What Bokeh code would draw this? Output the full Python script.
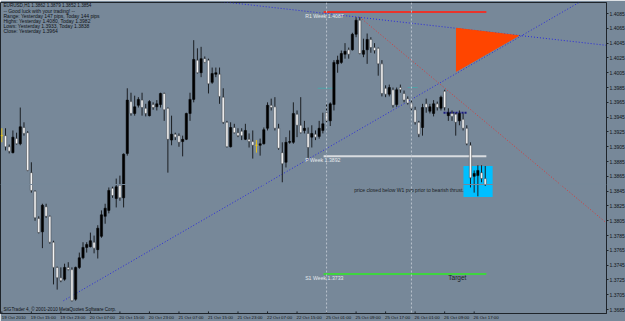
from bokeh.plotting import figure
from bokeh.models import ColumnDataSource, Range1d, FixedTicker, Label, Span, PrintfTickFormatter
from bokeh.embed import file_html
from bokeh.resources import INLINE
from bokeh.core.properties import value

# ---------------- data (EURUSD H1) ----------------
opens = [
    1.3920, 1.3920, 1.3905, 1.3897, 1.3916, 1.3909, 1.3931, 1.3924, 1.3870, 1.3845,
    1.3808, 1.3790, 1.3824, 1.3811, 1.3776, 1.3742, 1.3728, 1.3726, 1.3742, 1.3739,
    1.3699, 1.3742, 1.3755, 1.3769, 1.3770, 1.3776, 1.3766, 1.3784, 1.3811, 1.3819,
    1.3849, 1.3835, 1.3853, 1.3836, 1.3896, 1.3966, 1.3950, 1.3961, 1.3968, 1.3957,
    1.3947, 1.3962, 1.3959, 1.3962, 1.3977, 1.3957, 1.3914, 1.3922, 1.3920, 1.3912,
    1.3915, 1.3950, 1.3969, 1.4022, 1.4005, 1.4024, 1.4022, 1.3992, 1.4003, 1.4003,
    1.3972, 1.3938, 1.3905, 1.3931, 1.3924, 1.3926, 1.3915, 1.3915, 1.3912, 1.3907,
    1.3907, 1.3909, 1.3930, 1.3961, 1.3959, 1.3930, 1.3897, 1.3884, 1.3911, 1.3911,
    1.3949, 1.3934, 1.3927, 1.3923, 1.3918, 1.3922, 1.3919, 1.3927, 1.3951, 1.3940,
    1.3962, 1.4017, 1.4019, 1.4030, 1.4036, 1.4036, 1.4057, 1.4076, 1.4030, 1.4036,
    1.4050, 1.4039, 1.4038, 1.4017, 1.3984, 1.3976, 1.3982, 1.3962, 1.3985, 1.3977,
    1.3970, 1.3964, 1.3955, 1.3938, 1.3931, 1.3963, 1.3953, 1.3950, 1.3963, 1.3957,
    1.3980, 1.3947, 1.3950, 1.3949, 1.3940, 1.3942, 1.3930, 1.3907, 1.3865, 1.3866,
    1.3870, 1.3862]
highs = [
    1.3930, 1.3930, 1.3908, 1.3927, 1.3924, 1.3958, 1.3938, 1.3926, 1.3884, 1.3846,
    1.3811, 1.3828, 1.3828, 1.3812, 1.3778, 1.3743, 1.3742, 1.3747, 1.3749, 1.3742,
    1.3743, 1.3762, 1.3776, 1.3776, 1.3789, 1.3785, 1.3799, 1.3819, 1.3828, 1.3850,
    1.3851, 1.3862, 1.3866, 1.3896, 1.3984, 1.3978, 1.3974, 1.3972, 1.3978, 1.3963,
    1.3968, 1.3965, 1.3968, 1.3978, 1.3978, 1.3958, 1.3947, 1.3924, 1.3923, 1.3920,
    1.3951, 1.3978, 1.4049, 1.4038, 1.4040, 1.4027, 1.4024, 1.4012, 1.4012, 1.4012,
    1.3984, 1.3940, 1.3938, 1.3936, 1.3930, 1.3930, 1.3936, 1.3923, 1.3927, 1.3914,
    1.3916, 1.3931, 1.3965, 1.3970, 1.3972, 1.3936, 1.3911, 1.3918, 1.3927, 1.3965,
    1.3954, 1.3972, 1.3940, 1.3931, 1.3934, 1.3927, 1.3940, 1.3951, 1.3963, 1.3965,
    1.4022, 1.4028, 1.4035, 1.4045, 1.4039, 1.4059, 1.4080, 1.4080, 1.4051, 1.4058,
    1.4053, 1.4045, 1.4039, 1.4022, 1.3988, 1.3989, 1.3985, 1.3985, 1.3989, 1.3981,
    1.3973, 1.3968, 1.3959, 1.3940, 1.3963, 1.3970, 1.3963, 1.3968, 1.3966, 1.3974,
    1.3982, 1.3957, 1.3954, 1.3951, 1.3954, 1.3950, 1.3934, 1.3911, 1.3873, 1.3880,
    1.3880, 1.3879]
lows = [
    1.3911, 1.3900, 1.3896, 1.3896, 1.3908, 1.3907, 1.3920, 1.3872, 1.3843, 1.3805,
    1.3788, 1.3768, 1.3809, 1.3774, 1.3719, 1.3712, 1.3722, 1.3724, 1.3738, 1.3696,
    1.3697, 1.3740, 1.3753, 1.3762, 1.3769, 1.3761, 1.3754, 1.3782, 1.3801, 1.3815,
    1.3836, 1.3823, 1.3832, 1.3823, 1.3893, 1.3947, 1.3947, 1.3958, 1.3947, 1.3946,
    1.3946, 1.3955, 1.3954, 1.3958, 1.3940, 1.3870, 1.3907, 1.3914, 1.3905, 1.3892,
    1.3914, 1.3940, 1.3965, 1.4004, 1.3999, 1.4018, 1.3977, 1.3990, 1.3999, 1.3963,
    1.3936, 1.3904, 1.3904, 1.3923, 1.3918, 1.3914, 1.3914, 1.3904, 1.3889, 1.3897,
    1.3893, 1.3908, 1.3927, 1.3954, 1.3927, 1.3901, 1.3857, 1.3877, 1.3909, 1.3909,
    1.3918, 1.3923, 1.3923, 1.3890, 1.3904, 1.3914, 1.3916, 1.3923, 1.3938, 1.3933,
    1.3954, 1.4005, 1.4017, 1.4024, 1.4024, 1.4035, 1.4053, 1.4030, 1.4026, 1.4017,
    1.4032, 1.4031, 1.4001, 1.3973, 1.3972, 1.3973, 1.3958, 1.3959, 1.3978, 1.3965,
    1.3962, 1.3954, 1.3935, 1.3918, 1.3920, 1.3951, 1.3950, 1.3946, 1.3954, 1.3954,
    1.3954, 1.3940, 1.3940, 1.3920, 1.3934, 1.3927, 1.3907, 1.3850, 1.3843, 1.3838,
    1.3857, 1.3852]
closes = [
    1.3920, 1.3905, 1.3899, 1.3918, 1.3909, 1.3932, 1.3923, 1.3873, 1.3846, 1.3809,
    1.3789, 1.3826, 1.3811, 1.3776, 1.3742, 1.3728, 1.3724, 1.3742, 1.3739, 1.3697,
    1.3742, 1.3755, 1.3769, 1.3773, 1.3778, 1.3768, 1.3795, 1.3813, 1.3822, 1.3846,
    1.3839, 1.3851, 1.3836, 1.3895, 1.3968, 1.3950, 1.3959, 1.3969, 1.3958, 1.3950,
    1.3966, 1.3958, 1.3963, 1.3977, 1.3955, 1.3915, 1.3922, 1.3918, 1.3911, 1.3915,
    1.3950, 1.3969, 1.4023, 1.4005, 1.4024, 1.4019, 1.3990, 1.4004, 1.4005, 1.3973,
    1.3938, 1.3905, 1.3931, 1.3924, 1.3920, 1.3920, 1.3927, 1.3912, 1.3907, 1.3907,
    1.3909, 1.3928, 1.3961, 1.3958, 1.3930, 1.3903, 1.3882, 1.3911, 1.3912, 1.3950,
    1.3934, 1.3924, 1.3930, 1.3904, 1.3923, 1.3918, 1.3930, 1.3936, 1.3940, 1.3963,
    1.4019, 1.4022, 1.4031, 1.4034, 1.4030, 1.4057, 1.4076, 1.4031, 1.4035, 1.4050,
    1.4039, 1.4035, 1.4017, 1.3977, 1.3976, 1.3985, 1.3961, 1.3982, 1.3982, 1.3968,
    1.3964, 1.3957, 1.3938, 1.3922, 1.3958, 1.3958, 1.3959, 1.3963, 1.3958, 1.3972,
    1.3958, 1.3951, 1.3946, 1.3938, 1.3950, 1.3930, 1.3909, 1.3863, 1.3869, 1.3873,
    1.3862, 1.3854]

time_tick_bars = [0, 8, 16, 24, 32, 40, 48, 56, 64, 72, 80, 88, 96, 104, 112, 120, 128]
time_tick_labels = ["19 Oct 2010", "19 Oct 15:00", "19 Oct 23:00", "20 Oct 07:00", "20 Oct 15:00",
                    "20 Oct 23:00", "21 Oct 07:00", "21 Oct 15:00", "21 Oct 23:00", "22 Oct 07:00",
                    "22 Oct 15:00", "25 Oct 01:00", "25 Oct 09:00", "25 Oct 17:00", "26 Oct 01:00",
                    "26 Oct 09:00", "26 Oct 17:00"]
price_ticks = [1.3685, 1.3705, 1.3725, 1.3745, 1.3765, 1.3785, 1.3805, 1.3825, 1.3845, 1.3865,
               1.3885, 1.3905, 1.3925, 1.3945, 1.3965, 1.3985, 1.4005, 1.4025, 1.4045, 1.4065, 1.4085]
day_start_bars = [88, 111]

pivot_names = ["R1 Week", "P Week", "S1 Week"]
pivot_prices = [1.4087, 1.3892, 1.3733]
pivot_colors = ["#E8342C", "#D9DCE0", "#3FD43F"]
pivot_from_bar, pivot_to_bar = 87.2, 131.3

trend_up = ([16.7, 123.5], [1.3697, 1.4005])       # blue dotted support
trend_down = ([75.5, 163.9], [1.4092, 1.4042])     # blue dotted resistance
trend_red = ([97.0, 164.1], [1.4080, 1.3801])      # red dotted
triangle_bars = [123.2, 123.2, 140.0]
triangle_prices = [1.4065, 1.4007, 1.4055]
box_bars = (125.1, 133.0)
box_prices = (1.3837, 1.3879)
teal_marks = [([85.6, 90.4], 1.3984), ([110.0, 112.7], 1.3985)]
navy_mark = ([119.7, 126.2], 1.3951)

info_lines = ["-- Good luck with your trading! --",
              "Range: Yesterday 147 pips, Today 144 pips",
              "Highs: Yesterday 1.4080, Today 1.3982",
              "Lows: Yesterday 1.3933, Today 1.3838",
              "Close: Yesterday 1.3964"]

# ---------------- figure ----------------
BG = "#778899"
FONT = "Liberation Sans"
FRAME_W, FRAME_H = 606, 311
TOP = 2
LABEL_SHIFT = 3.25   # MT4 prints time labels starting at the bar, not centred on it

p = figure(frame_width=FRAME_W, frame_height=FRAME_H, output_backend="svg", toolbar_location=None,
           x_range=Range1d(-0.36, 163.86), y_range=Range1d(1.36797, 1.40999),
           y_axis_location="right",
           min_border_left=0, min_border_right=0, min_border_top=TOP, min_border_bottom=0,
           background_fill_color=BG, border_fill_color=BG,
           outline_line_color="#1E242A", outline_line_width=1)
p.grid.visible = False

for ax in (p.xaxis, p.yaxis):
    ax.axis_line_color = "#1E242A"
    ax.major_tick_line_color = "#1E242A"
    ax.minor_tick_line_color = None
    ax.major_tick_in = 0
    ax.major_tick_out = 2
    ax.major_label_text_font = FONT
    ax.major_label_text_color = "#101418"
    ax.major_label_standoff = 1

shifted = [b + LABEL_SHIFT for b in time_tick_bars]
p.xaxis.major_label_text_font_size = "4.4px"
p.xaxis.major_label_standoff = 1
p.xaxis.major_tick_out = 0
p.xaxis.ticker = FixedTicker(ticks=shifted)
p.xaxis.major_label_overrides = {b: t for b, t in zip(shifted, time_tick_labels)}
p.yaxis.major_label_text_font_size = "5px"
p.yaxis.ticker = FixedTicker(ticks=price_ticks)
p.yaxis.formatter = PrintfTickFormatter(format="%.4f")

n = list(range(len(opens)))

# small MT4 style time ticks at the bars themselves
p.segment(x0=time_tick_bars, x1=time_tick_bars, y0=[1.36797] * len(time_tick_bars),
          y1=[1.36825] * len(time_tick_bars), line_color="#1E242A", line_width=1)

# day separators
for b in day_start_bars:
    p.add_layout(Span(location=b, dimension="height", line_color="#B9C2CC",
                      line_dash="2 2", line_width=1))

# cyan box and bid line (bid line has the background colour)
p.quad(left=[box_bars[0]], right=[box_bars[1]], bottom=[box_prices[0]], top=[box_prices[1]],
       fill_color="#00BFFF", line_color=None)
p.add_layout(Span(location=closes[-1], dimension="width", line_color=BG, line_width=1))

# trend lines (extended)
def extend(pts, x0, x1):
    (a, b), (pa, pb) = pts
    k = (pb - pa) / (b - a)
    return [x0, x1], [pa + k * (x0 - a), pa + k * (x1 - a)]

xs, ys = extend(trend_up, trend_up[0][0], 175)
p.line(xs, ys, line_color="#2A2ADD", line_dash="1 2", line_width=1)
xs, ys = extend(trend_down, 40, 175)
p.line(xs, ys, line_color="#2A2ADD", line_dash="1 2", line_width=1)
xs, ys = extend(trend_red, trend_red[0][0], 175)
p.line(xs, ys, line_color="#D83A3A", line_dash="1 2", line_width=1)

p.patch(triangle_bars, triangle_prices, fill_color="#FF4500", line_color="#FF4500")

# pivots
for name, pr, col in zip(pivot_names, pivot_prices, pivot_colors):
    p.line([pivot_from_bar, pivot_to_bar], [pr, pr], line_color=col, line_width=2)
p.text(x=[82.2] * 3, y=pivot_prices, text=[f"{nm}  {pr:.4f}" for nm, pr in zip(pivot_names, pivot_prices)],
       text_font=value(FONT), text_font_size="5.2px", text_color="#E4E8EC",
       text_baseline="top", y_offset=1)

for xs_, pr in teal_marks:
    p.line(xs_, [pr, pr], line_color="#4FA3A8", line_width=1)
p.line(navy_mark[0], [navy_mark[1]] * 2, line_color="#1A1A80", line_width=2, line_dash="2 1")

# candles
top = [max(o, c) for o, c in zip(opens, closes)]
bot = [min(o, c) for o, c in zip(opens, closes)]
kind = ["doji" if c == o else ("bull" if c > o else "bear") for o, c in zip(opens, closes)]
wick_col = ["#E6C21A" if k == "doji" else "#1B1E22" for k in kind]
src = ColumnDataSource(dict(n=n, h=highs, l=lows, top=top, bot=bot, wick=wick_col))
p.segment(x0="n", y0="l", x1="n", y1="h", source=src, line_color="wick", line_width=1)

body_idx = [i for i, k in enumerate(kind) if k != "doji"]
bsrc = ColumnDataSource(dict(
    n=[n[i] for i in body_idx], top=[top[i] for i in body_idx], bot=[bot[i] for i in body_idx],
    fill=["#000000" if kind[i] == "bull" else "#F4F4F4" for i in body_idx],
    edge=["#000000" if kind[i] == "bull" else "#3A3F45" for i in body_idx]))
p.vbar(x="n", width=0.62, top="top", bottom="bot", source=bsrc,
       fill_color="fill", line_color="edge", line_width=0.5)
doji_idx = [i for i, k in enumerate(kind) if k == "doji"]
p.segment(x0=[n[i] - 0.35 for i in doji_idx], y0=[opens[i] for i in doji_idx],
          x1=[n[i] + 0.35 for i in doji_idx], y1=[opens[i] for i in doji_idx],
          line_color="#E6C21A", line_width=1)

# annotations
p.text(x=[95.5], y=[1.3846], text=["price closed below W1 pvp prior to bearish thrust."],
       text_font=value(FONT), text_font_size="5px", text_color="#1A1E24", text_baseline="middle")
p.text(x=[121.0], y=[1.3728], text=["Target"], text_font=value(FONT), text_font_size="6.5px",
       text_color="#1A1E24", text_baseline="middle")

def screen_label(text, cx, cy, size="5px", color="#0E1216", **kw):
    p.add_layout(Label(x=cx, y=FRAME_H - (cy - TOP), x_units="screen", y_units="screen",
                       text=text, text_font=FONT, text_font_size=size, text_color=color,
                       text_baseline="middle", **kw))

header = f"EURUSD,H1  {opens[-1]:.4f} {highs[-1]:.4f} {lows[-1]:.4f} {closes[-1]:.4f}"
screen_label(header, 3, 5, size="4.6px")
for k, line in enumerate(info_lines):
    screen_label(line, 3, 10.5 + k * 5.1)
screen_label("SIGTrader 4, \u00a9 2001-2010 MetaQuotes Software Corp.", 3, 309, size="4.6px")

# current price marker on the axis
p.add_layout(Label(x=FRAME_W + 1, y=closes[-1], x_units="screen", y_units="data",
                   text=f"{closes[-1]:.4f}", text_font=FONT, text_font_size="5px",
                   text_color="#FFFFFF", background_fill_color="#000000",
                   text_baseline="middle", padding=1))

open("out.html", "w").write(file_html(p, INLINE))
